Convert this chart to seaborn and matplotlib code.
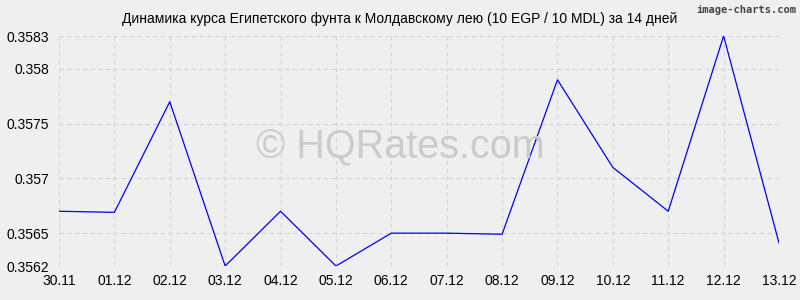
import matplotlib
matplotlib.use("Agg")
import matplotlib.pyplot as plt
import seaborn as sns
import pandas as pd

dates = ["30.11", "01.12", "02.12", "03.12", "04.12", "05.12", "06.12",
         "07.12", "08.12", "09.12", "10.12", "11.12", "12.12", "13.12"]
rates = [0.35670, 0.35669, 0.35770, 0.35620, 0.35670, 0.35620, 0.35650,
         0.35650, 0.35649, 0.35790, 0.35710, 0.35670, 0.35830, 0.35641]
yticks = [0.3562, 0.3565, 0.357, 0.3575, 0.358, 0.3583]
ytick_labels = ["0.3562", "0.3565", "0.357", "0.3575", "0.358", "0.3583"]
title = "Динамика курса Египетского фунта к Молдавскому лею (10 EGP / 10 MDL) за 14 дней"

sns.set_theme(style="white")
plt.rcParams['font.family'] = ['Liberation Sans', 'DejaVu Sans']

bg = "#efefef"
fig = plt.figure(figsize=(8, 3), dpi=100, facecolor=bg)
ax = fig.add_axes([0.07375, 0.1133, 0.9, 0.7667])
ax.set_facecolor(bg)

df = pd.DataFrame({"x": range(len(dates)), "rate": rates})
sns.lineplot(data=df, x="x", y="rate", ax=ax, color="#0000ff", linewidth=0.9)

ax.set_xlim(0, len(dates) - 1)
ax.set_ylim(yticks[0], yticks[-1])
ax.set_xticks(range(len(dates)))
ax.set_xticklabels(dates)
ax.set_yticks(yticks)
ax.set_yticklabels(ytick_labels)
ax.set_xlabel("")
ax.set_ylabel("")
for s in ax.spines.values():
    s.set_visible(False)
ax.grid(True, color="#d4d4d4", linestyle=(0, (4, 3)), linewidth=0.8)
ax.tick_params(axis="both", labelsize=10, colors="#000000", length=4, color="#c4c4c4", pad=3)
ax.tick_params(axis="x", length=0, pad=6)

fig.text(0.5, 0.938, title, ha="center", va="center", fontsize=10, color="#000000")
fig.text(0.995, 0.985, "image-charts.com", ha="right", va="top", fontsize=7.5,
         color="#444444", family="DejaVu Sans Mono", fontweight="bold")
fig.text(0.5, 0.51, "© HQRates.com", ha="center", va="center",
         fontsize=28.5, color="#cbcbcb", zorder=0)

fig.savefig("out.png", dpi=100, facecolor=bg)
